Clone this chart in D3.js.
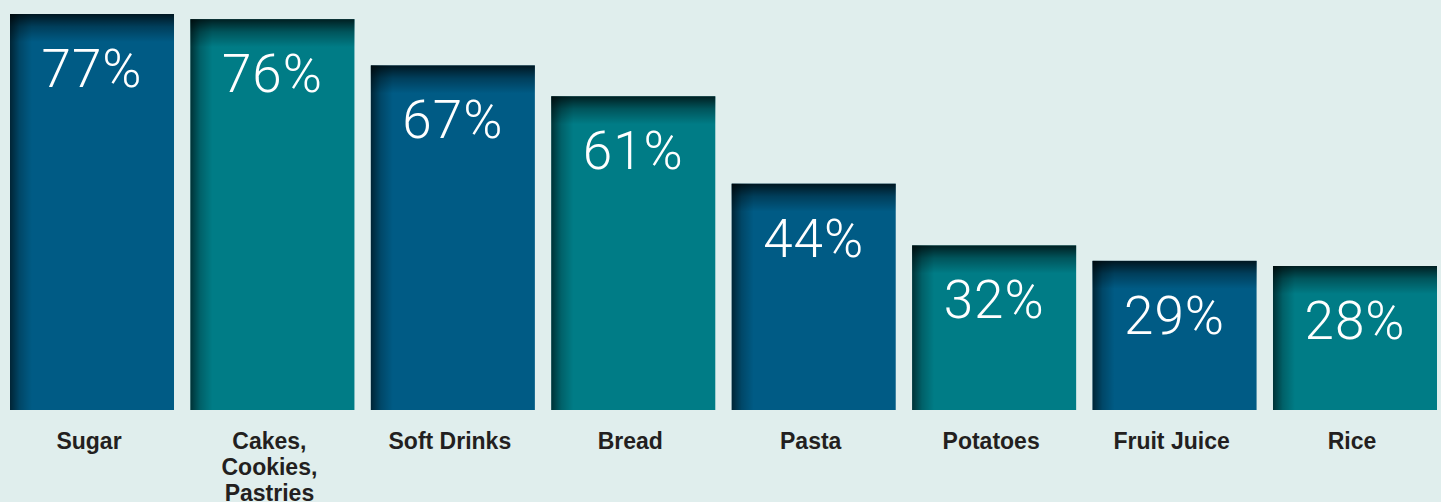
<!DOCTYPE html>
<html>
<head>
<meta charset="utf-8">
<script src="https://cdn.jsdelivr.net/npm/d3@7"></script>
<style>
  html, body { margin: 0; padding: 0; background: #e0eeed; }
  svg { display: block; }
</style>
</head>
<body>
<svg id="chart"></svg>
<script>
var categories = ["Sugar", "Cakes,\nCookies,\nPastries", "Soft Drinks", "Bread", "Pasta", "Potatoes", "Fruit Juice", "Rice"];
var values = [77, 76, 67, 61, 44, 32, 29, 28];
var barColors = ["#005b85", "#007c86"];

var WIDTH = 1441,
  HEIGHT = 502,
  BASE = 410,
  TOP = 14;

var svg = d3.select("#chart").attr("width", WIDTH).attr("height", HEIGHT);

svg.append("rect").attr("width", WIDTH).attr("height", HEIGHT).attr("fill", "#e0eeed");

var data = categories.map(function(c, i) { return { cat: c, val: values[i], i: i }; });

var x = d3.scaleBand()
  .domain(categories)
  .range([10, 1437])
  .paddingInner(0.091)
  .paddingOuter(0);

var y = d3.scaleLinear()
  .domain([0, d3.max(values)])
  .range([BASE, TOP]);

// shadow gradients
var defs = svg.append("defs");
var gTop = defs.append("linearGradient").attr("id", "shTop").attr("x1", 0).attr("y1", 0).attr("x2", 0).attr("y2", 1);
gTop.append("stop").attr("offset", "0%").attr("stop-color", "#000").attr("stop-opacity", 0.75);
gTop.append("stop").attr("offset", "45%").attr("stop-color", "#000").attr("stop-opacity", 0.32);
gTop.append("stop").attr("offset", "100%").attr("stop-color", "#000").attr("stop-opacity", 0);
var gLeft = defs.append("linearGradient").attr("id", "shLeft").attr("x1", 0).attr("y1", 0).attr("x2", 1).attr("y2", 0);
gLeft.append("stop").attr("offset", "0%").attr("stop-color", "#000").attr("stop-opacity", 0.6);
gLeft.append("stop").attr("offset", "45%").attr("stop-color", "#000").attr("stop-opacity", 0.22);
gLeft.append("stop").attr("offset", "100%").attr("stop-color", "#000").attr("stop-opacity", 0);

var bars = svg.append("g").selectAll("g").data(data).enter().append("g");

bars.append("rect")
  .attr("x", function(d) { return x(d.cat); })
  .attr("y", function(d) { return y(d.val); })
  .attr("width", x.bandwidth())
  .attr("height", function(d) { return BASE - y(d.val); })
  .attr("fill", function(d) { return barColors[d.i % 2]; });

bars.append("rect")
  .attr("x", function(d) { return x(d.cat); })
  .attr("y", function(d) { return y(d.val); })
  .attr("width", 22)
  .attr("height", function(d) { return BASE - y(d.val); })
  .attr("fill", "url(#shLeft)");

bars.append("rect")
  .attr("x", function(d) { return x(d.cat); })
  .attr("y", function(d) { return y(d.val); })
  .attr("width", x.bandwidth())
  .attr("height", 28)
  .attr("fill", "url(#shTop)");

// value labels
bars.append("text")
  .attr("x", function(d) { return x(d.cat) + x.bandwidth() / 2; })
  .attr("y", function(d) { return y(d.val) + 73; })
  .attr("text-anchor", "middle")
  .attr("fill", "#ffffff")
  .style("font-family", "Roboto, 'Helvetica Neue', sans-serif")
  .style("font-weight", 300)
  .style("font-size", "53px")
  .style("letter-spacing", "1px")
  .text(function(d) { return d.val + "%"; });

// category labels
var labels = svg.append("g").selectAll("text").data(data).enter().append("text")
  .attr("x", function(d) { return x(d.cat) + x.bandwidth() / 2 - 3; })
  .attr("y", 449)
  .attr("text-anchor", "middle")
  .attr("fill", "#231f20")
  .style("font-family", "'Liberation Sans', Arial, sans-serif")
  .style("font-weight", "bold")
  .style("font-size", "23px");

labels.each(function(d) {
  var t = d3.select(this);
  d.cat.split("\n").forEach(function(line, k) {
    t.append("tspan")
      .attr("x", x(d.cat) + x.bandwidth() / 2 - 3)
      .attr("dy", k === 0 ? 0 : 26)
      .text(line);
  });
});
</script>
</body>
</html>
